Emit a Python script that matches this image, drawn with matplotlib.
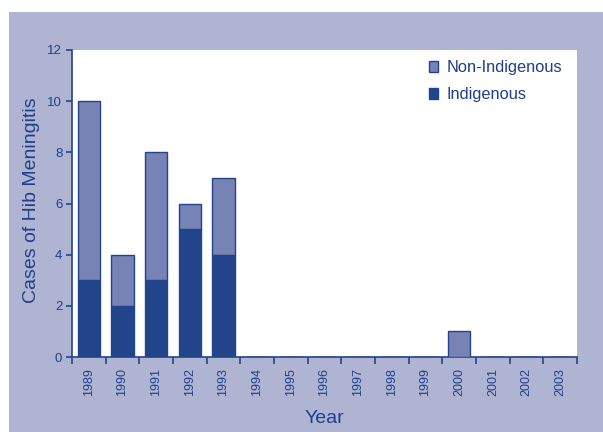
import numpy as np
import matplotlib.pyplot as plt
from matplotlib.patches import Rectangle

plt.rcParams['font.family'] = ['Liberation Sans', 'DejaVu Sans']

# Data
years = ['1989', '1990', '1991', '1992', '1993', '1994', '1995', '1996',
         '1997', '1998', '1999', '2000', '2001', '2002', '2003']
indigenous = [3, 2, 3, 5, 4, 0, 0, 0, 0, 0, 0, 0, 0, 0, 0]
non_indigenous = [7, 2, 5, 1, 3, 0, 0, 0, 0, 0, 0, 1, 0, 0, 0]

text_col = '#1f3f8a'
dark = '#22448a'
light = '#7782b5'
panel = '#b0b4d3'

fig = plt.figure(figsize=(6.03, 4.32), dpi=100)
fig.patch.set_facecolor('white')

# lavender panel behind the chart
fig.patches.append(Rectangle((9 / 603, 0), 1 - 9 / 603, 1 - 12 / 432,
                             transform=fig.transFigure, facecolor=panel,
                             edgecolor='none', zorder=-10))

ax = fig.add_axes([72 / 603, 75 / 432, (577 - 72) / 603, (357 - 50) / 432])
ax.set_facecolor('white')
ax.set_zorder(1)

x = np.arange(len(years))
ax.bar(x, indigenous, width=0.66, color=dark, edgecolor=dark, linewidth=1,
       label='Indigenous', zorder=3)
ax.bar(x, non_indigenous, width=0.66, bottom=indigenous, color=light,
       edgecolor=dark, linewidth=1, label='Non-Indigenous', zorder=3)

ax.set_xlim(-0.5, len(years) - 0.5)
ax.set_ylim(0, 12)
ax.set_yticks(range(0, 13, 2))

# ticks at category boundaries, labels at category centres
ax.set_xticks(np.arange(len(years) + 1) - 0.5)
ax.set_xticklabels([])
ax.set_xticks(x, minor=True)
ax.set_xticklabels(years, minor=True, rotation=90, fontsize=9, color=text_col)
ax.tick_params(axis='x', which='major', direction='out', length=5,
               width=1.2, color=dark)
ax.tick_params(axis='x', which='minor', length=0, pad=8)
ax.tick_params(axis='y', direction='out', length=4, width=1.2, color=dark,
               labelsize=9.5, labelcolor=text_col, pad=3)

for side in ['top', 'right']:
    ax.spines[side].set_visible(False)
for side in ['left', 'bottom']:
    ax.spines[side].set_color(dark)
    ax.spines[side].set_linewidth(1.2)

ax.set_ylabel('Cases of Hib Meningitis', fontsize=14, color=text_col)
ax.yaxis.set_label_coords(-32 / 505, 0.51)
ax.set_xlabel('Year', fontsize=14, color=text_col, labelpad=10)

handles, labels = ax.get_legend_handles_labels()
ax.legend(handles[::-1], labels[::-1], loc='upper right', frameon=False,
          fontsize=11.8, labelcolor=text_col, handlelength=0.6,
          handleheight=0.6, handletextpad=0.5, labelspacing=0.75,
          bbox_to_anchor=(1.0, 1.015))

fig.savefig('out.png', dpi=100)
